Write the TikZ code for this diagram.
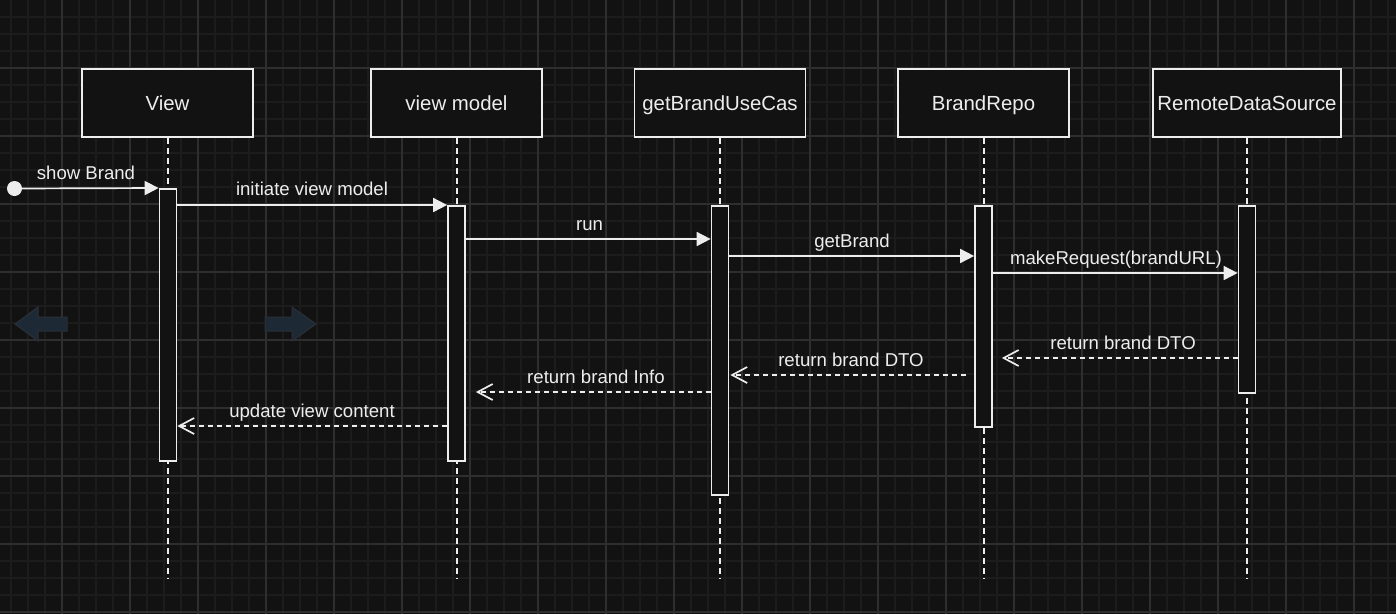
\documentclass[tikz,border=0pt]{standalone}
\usepackage{fontspec}
\setmainfont{Liberation Sans}
\usetikzlibrary{arrows.meta,calc}
\definecolor{bgc}{HTML}{121212}
\definecolor{gridminor}{HTML}{1C1C1C}
\definecolor{gridmajor}{HTML}{2E2E2E}
\definecolor{fg}{HTML}{EDEDED}
\definecolor{arrowfill}{HTML}{1D2A35}
\definecolor{arrowline}{HTML}{2A3038}
\tikzset{
  minorline/.style={draw=gridminor, line width=1.1pt},
  majorline/.style={draw=gridmajor, line width=1.1pt},
  hdr/.style={draw=fg, fill=bgc, line width=1.7pt, minimum width=171pt, minimum height=68pt,
    inner sep=0pt, text=fg, font=\fontsize{20.4}{24}\selectfont, text height=14.6pt, text depth=0pt},
  act/.style={draw=fg, fill=bgc, line width=1.7pt, minimum width=17pt, inner sep=0pt, anchor=north},
  lifeline/.style={draw=fg, line width=2pt, dash pattern=on 6pt off 4pt},
  lbl/.style={text=fg, inner sep=0pt, font=\fontsize{18.6}{22}\selectfont, text height=13.3pt, text depth=0pt},
  msg/.style={draw=fg, line width=1.7pt, -{Triangle[length=14pt,width=14pt]}},
  ret/.style={draw=fg, line width=1.7pt, dash pattern=on 5pt off 4pt,
    -{Straight Barb[length=15pt,width=16pt,line width=1.7pt]}},
  bluearrow/.style={fill=arrowfill, draw=arrowline, line width=1pt}
}
\begin{document}
\begin{tikzpicture}[x=1pt,y=-1pt]
\useasboundingbox (0,0) rectangle (1396,614);
\fill[bgc] (0,0) rectangle (1396,614);
% grid
\foreach \x in {11,28,...,1396} \draw[minorline] (\x,0) -- (\x,614);
\foreach \y in {17,34,...,614} \draw[minorline] (0,\y) -- (1396,\y);
\foreach \x in {62,130,...,1396} \draw[majorline] (\x,0) -- (\x,614);
\foreach \y in {68,136,...,614} \draw[majorline] (0,\y) -- (1396,\y);

% faint blue arrows
\path[bluearrow] (15,324) -- (38,307) -- (38,317) -- (67,317) -- (67,331) -- (38,331) -- (38,341) -- cycle;
\path[bluearrow] (316,324) -- (292,307) -- (292,317) -- (265,317) -- (265,331) -- (292,331) -- (292,341) -- cycle;

% headers
\node[hdr] (hView) at (167.5,103) {View};
\node[hdr] (hVM) at (456.5,103) {view model};
\node[hdr] (hUC) at (720,103) {getBrandUseCas};
\node[hdr] (hRepo) at (983.5,103) {BrandRepo};
\node[hdr, minimum width=188pt] (hRDS) at (1247,103) {RemoteDataSource};

% lifeline ends
\coordinate (eView) at (167.5,578);
\coordinate (eVM) at (456.5,578);
\coordinate (eUC) at (720,578);
\coordinate (eRepo) at (983.5,578);
\coordinate (eRDS) at (1247,578);
\draw[lifeline] (hView.south) -- (eView);
\draw[lifeline] (hVM.south) -- (eVM);
\draw[lifeline] (hUC.south) -- (eUC);
\draw[lifeline] (hRepo.south) -- (eRepo);
\draw[lifeline] (hRDS.south) -- (eRDS);

% activations
\node[act, minimum height=272pt] (aView) at (168,188) {};
\node[act, minimum height=255pt] (aVM) at (456.5,205) {};
\node[act, minimum height=289pt] (aUC) at (720,205) {};
\node[act, minimum height=221pt] (aRepo) at (983.5,205) {};
\node[act, minimum height=187pt] (aRDS) at (1247,205) {};

% start
\node[circle, fill=fg, minimum size=15pt, inner sep=0pt] (start) at (14.5,188.5) {};
\draw[msg] (start.center) -- (aView.north west);
\node[lbl] (lShow) at (86,173) {show Brand};

% calls
\draw[msg] (aView.east |- aVM.north) -- (aVM.north west);
\node[lbl] (lInit) at (312,189) {initiate view model};
\draw[msg] (aVM.east |- 0,239) -- (aUC.west |- 0,239);
\node[lbl] (lRun) at (589.5,224) {run};
\draw[msg] (aUC.east |- 0,256) -- (aRepo.west |- 0,256);
\node[lbl] (lGet) at (852,241) {getBrand};
\draw[msg] (aRepo.east |- 0,273) -- (aRDS.west |- 0,273);
\node[lbl] (lReq) at (1116,258) {makeRequest(brandURL)};

% returns
\draw[ret, shorten >=9pt] (aRDS.west |- 0,358) -- (aRepo.east |- 0,358);
\node[lbl] (lR1) at (1123,343) {return brand DTO};
\draw[ret, shorten <=8pt, shorten >=1pt] (aRepo.west |- 0,375) -- (aUC.east |- 0,375);
\node[lbl] (lR2) at (851,360) {return brand DTO};
\draw[ret, shorten >=10pt] (aUC.west |- 0,392) -- (aVM.east |- 0,392);
\node[lbl] (lR3) at (596,377) {return brand Info};
\draw[ret] (aVM.west |- 0,426) -- (aView.east |- 0,426);
\node[lbl] (lR4) at (312,411) {update view content};
\end{tikzpicture}
\end{document}
